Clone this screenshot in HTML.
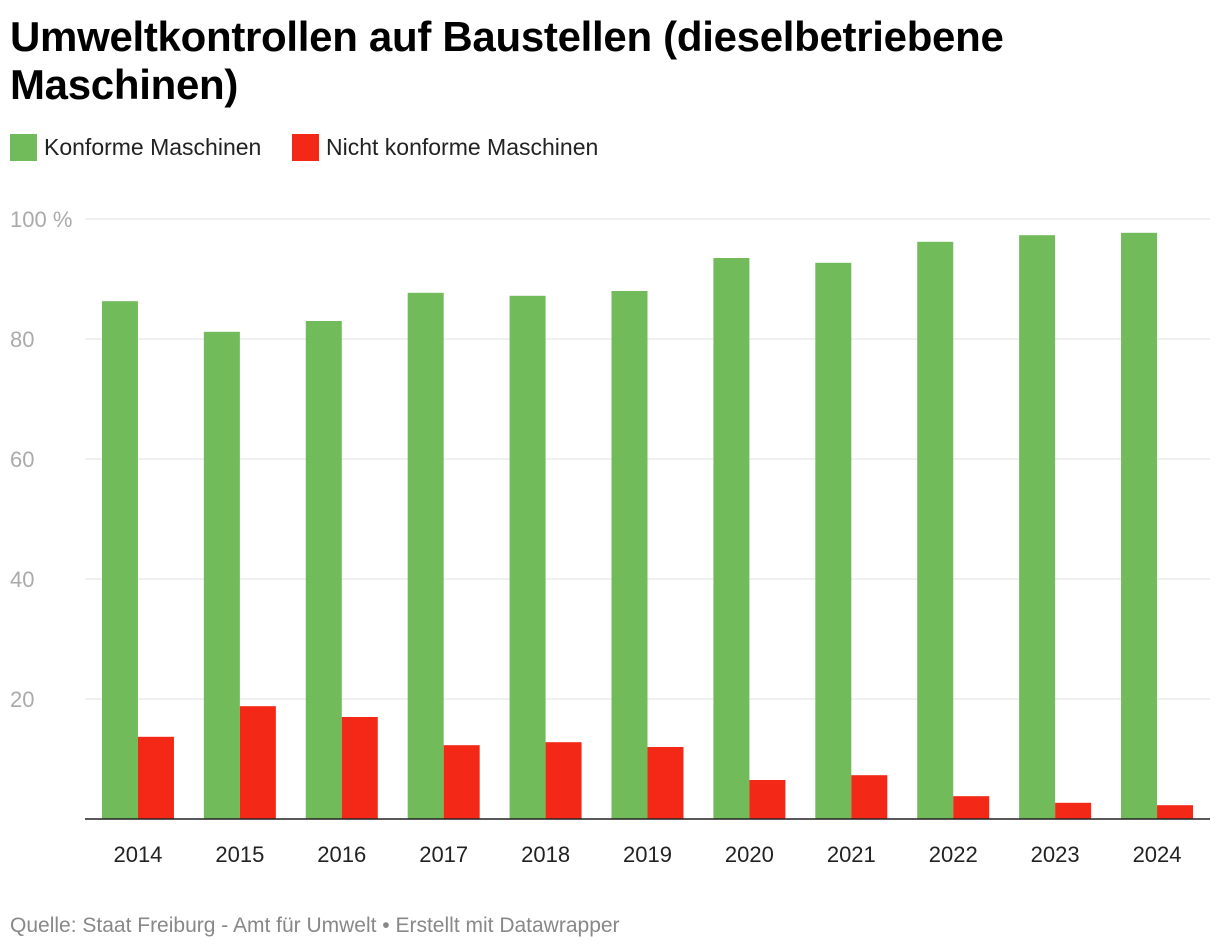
<!DOCTYPE html>
<html><head><meta charset="utf-8"><style>
body{margin:0;background:#fff;font-family:"Liberation Sans",Arial,sans-serif;}
#wrap{position:relative;width:1220px;height:950px;overflow:hidden}
h1{position:absolute;left:10px;top:13px;margin:0;font-size:42px;line-height:48px;font-weight:bold;color:#000;letter-spacing:-0.3px}
.leg{position:absolute;top:134px;display:flex;align-items:center;font-size:23px;color:#222}
.sw{width:27px;height:27px;margin-right:7px}
#foot{position:absolute;left:10px;top:914px;font-size:21px;color:#888}
</style></head><body><div id="wrap">
<h1>Umweltkontrollen auf Baustellen (dieselbetriebene<br>Maschinen)</h1>
<div class="leg" style="left:10px"><div class="sw" style="background:#71bb5a"></div>Konforme Maschinen</div>
<div class="leg" style="left:292px"><div class="sw" style="background:#f42816"></div>Nicht konforme Maschinen</div>
<svg id="svg" width="1220" height="950" style="position:absolute;left:0;top:0"></svg>
<div id="foot">Quelle: Staat Freiburg - Amt für Umwelt • Erstellt mit Datawrapper</div>
</div>
<script>
const years=["2014","2015","2016","2017","2018","2019","2020","2021","2022","2023","2024"];
const konform=[86.3,81.2,83.0,87.7,87.2,88.0,93.5,92.7,96.2,97.3,97.7];
const nichtKonform=[13.7,18.8,17.0,12.3,12.8,12.0,6.5,7.3,3.8,2.7,2.3];
const yTicks=[0,20,40,60,80,100];
const yTickLabels=["","20","40","60","80","100 %"];
const svg=document.getElementById('svg');const NS="http://www.w3.org/2000/svg";
const x0=87,x1=1208,yTop=219,yBase=819;
const band=(x1-x0)/years.length;
function y(v){return yBase-(v/100)*(yBase-yTop);}
function xc(i){return x0+band*(i+0.5);}
function mk(t,a){const e=document.createElementNS(NS,t);for(const k in a)e.setAttribute(k,a[k]);svg.appendChild(e);return e;}
yTicks.forEach((t,i)=>{
 if(t>0){const l=mk('line',{x1:85,x2:1210,y1:y(t),y2:y(t),stroke:'#e0e0e0','stroke-width':1});
 
 }
 const tx=mk('text',{x:10,y:y(t)+8,'font-size':22,fill:'#aaa','font-family':'Liberation Sans, sans-serif'});
 tx.textContent=yTickLabels[i];
 
 
});
years.forEach((yr,i)=>{
 const g=mk('rect',{x:xc(i)-36,y:y(konform[i]),width:36,height:yBase-y(konform[i]),fill:'#71bb5a'});
 
 
 const r=mk('rect',{x:xc(i),y:y(nichtKonform[i]),width:36,height:yBase-y(nichtKonform[i]),fill:'#f42816'});
 
 
 const tx=mk('text',{x:xc(i),y:862,'font-size':22,fill:'#222','text-anchor':'middle','font-family':'Liberation Sans, sans-serif'});
 tx.textContent=yr;
 
 
});
const ax=mk('line',{x1:85,x2:1210,y1:yBase,y2:yBase,stroke:'#222','stroke-width':1.5});


</script></body></html>
